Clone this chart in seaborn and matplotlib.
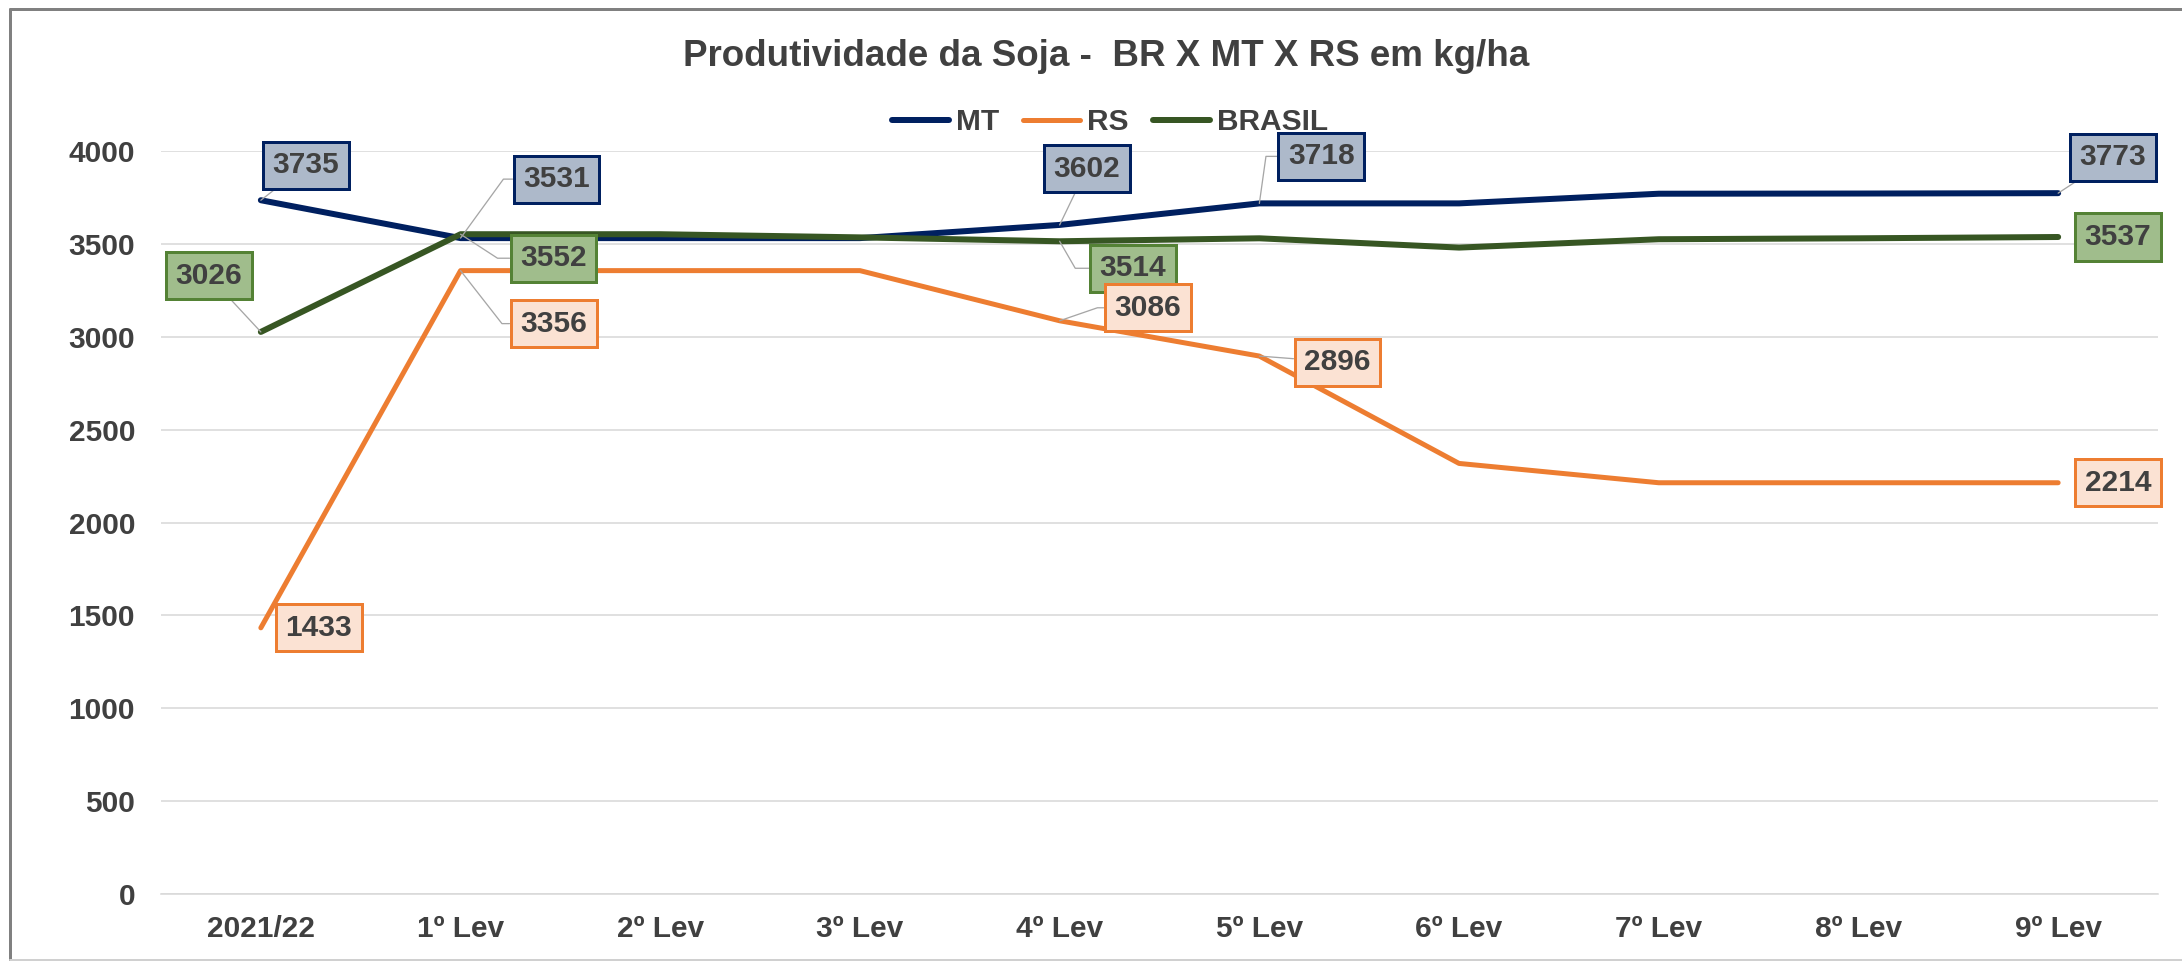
import matplotlib
matplotlib.use("Agg")
import matplotlib.pyplot as plt
import pandas as pd
import seaborn as sns
from matplotlib.lines import Line2D

# ---- data -------------------------------------------------------------
categories = ["2021/22", "1º Lev", "2º Lev", "3º Lev", "4º Lev",
              "5º Lev", "6º Lev", "7º Lev", "8º Lev", "9º Lev"]
mt = [3735, 3531, 3531, 3531, 3602, 3718, 3718, 3770, 3771, 3773]
rs = [1433, 3356, 3356, 3356, 3086, 2896, 2318, 2214, 2214, 2214]
brasil = [3026, 3552, 3552, 3535, 3514, 3530, 3480, 3525, 3530, 3537]
series_names = ["MT", "RS", "BRASIL"]
y_ticks = [0, 500, 1000, 1500, 2000, 2500, 3000, 3500, 4000]
title = "Produtividade da Soja -  BR X MT X RS em kg/ha"

# ---- styling ----------------------------------------------------------
DPI = 100
W, H = 2182, 961
TEXT = "#404040"
line_color = {"MT": "#002060", "RS": "#ED7D31", "BRASIL": "#375623"}
line_px = {"MT": 6.0, "RS": 5.0, "BRASIL": 6.0}
box_fill = {"MT": "#ADB9CA", "RS": "#FBE2D3", "BRASIL": "#A0BD8C"}
box_edge = {"MT": "#002060", "RS": "#ED7D31", "BRASIL": "#548235"}


def pt(px):
    return px * 72.0 / DPI


sns.set_theme(style="white")
plt.rcParams["font.family"] = ["Liberation Sans", "DejaVu Sans"]
plt.rcParams["font.weight"] = "bold"

fig = plt.figure(figsize=(W / DPI, H / DPI), dpi=DPI)
ax = fig.add_axes([161 / W, 1 - 894 / H, (2158 - 161) / W, (894 - 151) / H])

values = {"MT": mt, "RS": rs, "BRASIL": brasil}
for z, name in enumerate(series_names):
    sns.lineplot(x=categories, y=values[name], ax=ax, color=line_color[name],
                 linewidth=pt(line_px[name]), sort=False, zorder=3 + z,
                 solid_capstyle="round", solid_joinstyle="round")

ax.set_xlim(-0.5, len(categories) - 0.5)
ax.set_ylim(0, 4000)
ax.set_yticks(y_ticks)
ax.set_yticklabels([str(v) for v in y_ticks])
ax.set_xticks(range(len(categories)))
ax.set_xticklabels(categories)
ax.set_xticks([len(categories) - 0.5], minor=True)
ax.yaxis.grid(True, color="#D9D9D9", linewidth=pt(1.6))
ax.xaxis.grid(False)
for s in ["top", "right", "left"]:
    ax.spines[s].set_visible(False)
ax.spines["bottom"].set_color("#D9D9D9")
ax.spines["bottom"].set_linewidth(pt(1.6))
ax.tick_params(axis="y", length=0, pad=pt(26), labelsize=21.5, labelcolor=TEXT)
ax.tick_params(axis="x", which="both", direction="inout", length=pt(14),
               width=pt(1.4), color="#D9D9D9", pad=pt(14), labelsize=21.5,
               labelcolor=TEXT)
for lab in ax.get_xticklabels() + ax.get_yticklabels():
    lab.set_fontweight("bold")
ax.set_xlabel("")
ax.set_ylabel("")

# ---- data labels with leader lines -------------------------------------
# (series, index, offset x px, offset y px, connection style or None)
label_layout = [
    ("MT", 0, 45, 35, "arc3"),
    ("MT", 1, 96, 59, "angle,angleA=0,angleB=54,rad=0"),
    ("MT", 4, 27, 56, "arc3"),
    ("MT", 5, 62, 47, "angle,angleA=0,angleB=82,rad=0"),
    ("MT", 9, 55, 36, "arc3"),
    ("BRASIL", 0, -52, 56, "arc3"),
    ("BRASIL", 1, 93, -24, "angle,angleA=0,angleB=-33,rad=0"),
    ("BRASIL", 4, 73, -27, "angle,angleA=0,angleB=-60,rad=0"),
    ("BRASIL", 9, 60, 0, None),
    ("RS", 0, 58, 0, None),
    ("RS", 1, 93, -53, "angle,angleA=0,angleB=-52,rad=0"),
    ("RS", 4, 88, 13, "angle,angleA=0,angleB=19,rad=0"),
    ("RS", 5, 78, -6, "arc3"),
    ("RS", 9, 60, 0, None),
]
for name, i, dx, dy, cs in label_layout:
    v = values[name][i]
    arrow = None
    if cs is not None:
        arrow = dict(arrowstyle="-", color="#A6A6A6", lw=pt(1.3),
                     shrinkA=0, shrinkB=0, connectionstyle=cs)
    ax.annotate(str(v), xy=(i, v), xytext=(dx, dy), textcoords="offset pixels",
                ha="center", va="center", fontsize=21.5, fontweight="bold",
                color=TEXT, zorder=10, annotation_clip=False,
                bbox=dict(boxstyle="square,pad=0.32", fc=box_fill[name],
                          ec=box_edge[name], lw=pt(3)),
                arrowprops=arrow)

# ---- title and legend --------------------------------------------------
fig.text(1106 / W, 1 - 57 / H, title, ha="center", va="center",
         fontsize=26.5, fontweight="bold", color=TEXT)
handles = [Line2D([0], [0], color=line_color[n], lw=pt(line_px[n]),
                  solid_capstyle="round") for n in series_names]
leg = fig.legend(handles, series_names, loc="center",
                 bbox_to_anchor=(1110 / W, 1 - 122 / H), ncol=3, frameon=False,
                 fontsize=21.5, handlelength=1.9, handletextpad=0.25,
                 columnspacing=0.8)
for t in leg.get_texts():
    t.set_color(TEXT)
    t.set_fontweight("bold")

# ---- chart frame -------------------------------------------------------
fig.add_artist(Line2D([10 / W, 1.0], [1 - 9 / H, 1 - 9 / H],
                      transform=fig.transFigure, color="#808080", lw=pt(3)))
fig.add_artist(Line2D([10 / W, 10 / W], [0, 1 - 9 / H],
                      transform=fig.transFigure, color="#808080", lw=pt(3)))
fig.add_artist(Line2D([10 / W, 1.0], [1.2 / H, 1.2 / H],
                      transform=fig.transFigure, color="#D0D0D0", lw=pt(2)))

fig.savefig("out.png", dpi=DPI)
